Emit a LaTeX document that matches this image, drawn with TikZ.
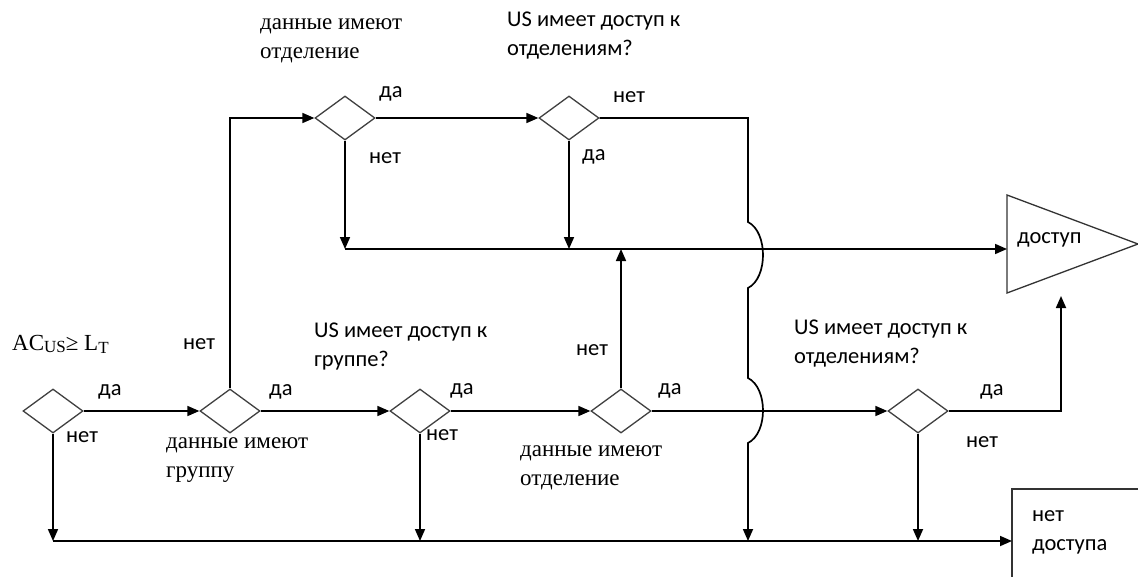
\documentclass[tikz,border=0pt]{standalone}
\usepackage{fontspec}
\setmainfont{Liberation Serif}
\newfontfamily\lblfont{Carlito}
\usetikzlibrary{arrows.meta,shapes.geometric}

\begin{document}
\begin{tikzpicture}[x=1pt,y=-1pt,
  cond/.style={draw=black!75, line width=1.3pt, diamond, minimum width=60pt,
    minimum height=44pt, inner sep=0pt},
  flow/.style={line width=1.7pt, -{Triangle[length=12pt,width=10pt]}},
  term/.style={draw=black!80, line width=1.3pt},
  sans/.style={font=\lblfont\fontsize{22.5}{29}\selectfont, inner sep=0pt,
    anchor=base west, align=left},
  serif/.style={font=\fontsize{23}{29}\selectfont, inner sep=0pt,
    anchor=base west, align=left}]

\clip (0,0) rectangle (1138,576);
\fill[white] (0,0) rectangle (1138,576);

% decision diamonds
\node[cond] (d1) at (53,411) {};
\node[cond] (d2) at (230,411) {};
\node[cond] (d3) at (420,411) {};
\node[cond] (d4) at (621,411) {};
\node[cond] (d5) at (918,411) {};
\node[cond] (d6) at (345,118) {};
\node[cond] (d7) at (569,118) {};

% terminals
\draw[term] (1007,195) -- (1138,244) -- (1007,293) -- cycle;
\node[sans] (acc) at (1017,243) {доступ};
\draw[term] (1012,489) rectangle (1150,590);
\node[sans] (deny) at (1032,550) {нет\\[0pt]доступа};

% junction points
\coordinate (mid0) at (345,249);
\coordinate (accin) at (1007,249);
\coordinate (accup) at (1061,296);
\coordinate (bot0) at (53,541);
\coordinate (denyin) at (1012,541);
\coordinate (j0) at (748,118);
\coordinate (j1) at (748,222);
\coordinate (j2) at (748,288);
\coordinate (j3) at (748,378);
\coordinate (j4) at (748,443);
\coordinate (j5) at (748,541);

% main flow
\draw[flow] (d1) -- (d2);
\draw[flow] (d2) -- (d3);
\draw[flow] (d3) -- (d4);
\draw[flow] (d4) -- (d5);
\draw[flow] (d6) -- (d7);
\draw[flow] (d2.north) |- (d6.west);

% to "доступ"
\draw[flow] (d6.south) -- (mid0);
\draw[flow] (mid0) -- (accin);
\draw[flow] (d7.south) -- (d7.south |- mid0);
\draw[flow] (d4.north) -- (d4.north |- mid0);
\draw[flow] (d5.east) -| (accup);

% to "нет доступа"
\draw[flow] (d1.south) -- (bot0);
\draw[flow] (bot0) -- (denyin);
\draw[flow] (d3.south) -- (d3.south |- bot0);
\draw[flow] (d5.south) -- (d5.south |- bot0);
\draw[flow] (d7.east) -- (j0) -- (j1)
  .. controls (768,232) and (768,278) .. (j2) -- (j3)
  .. controls (768,388) and (768,433) .. (j4) -- (j5);

% questions
\node[serif] (q1) at (12,350) {AC\raisebox{-2pt}{\fontsize{17}{17}\selectfont US}≥ L\raisebox{-3pt}{\fontsize{17}{17}\selectfont T}};
\node[serif] (q2) at (166,477) {данные имеют\\[0pt]группу};
\node[sans] (q3) at (314,366) {US имеет доступ к\\[0pt]группе?};
\node[serif] (q4) at (520,485) {данные имеют\\[0pt]отделение};
\node[sans] (q5) at (794,363) {US имеет доступ к\\[0pt]отделениям?};
\node[serif] (q6) at (260,58) {данные имеют\\[0pt]отделение};
\node[sans] (q7) at (507,55) {US имеет доступ к\\[0pt]отделениям?};

% branch labels
\node[sans] (l1y) at (98,395) {да};
\node[sans] (l1n) at (66,442) {нет};
\node[sans] (l2y) at (269,395) {да};
\node[sans] (l2n) at (183,349) {нет};
\node[sans] (l3y) at (450,394) {да};
\node[sans] (l3n) at (426,440) {нет};
\node[sans] (l4y) at (658,394) {да};
\node[sans] (l4n) at (576,355) {нет};
\node[sans] (l5y) at (980,395) {да};
\node[sans] (l5n) at (966,447) {нет};
\node[sans] (l6y) at (379,97) {да};
\node[sans] (l6n) at (369,163) {нет};
\node[sans] (l7y) at (582,160) {да};
\node[sans] (l7n) at (613,102) {нет};
\end{tikzpicture}
\end{document}
